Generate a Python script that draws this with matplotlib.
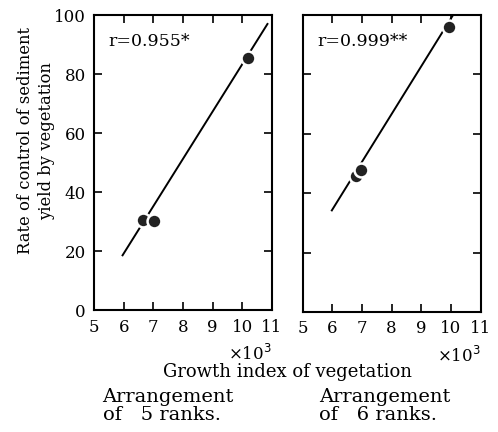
import matplotlib
matplotlib.use("Agg")
import matplotlib.pyplot as plt

# Data (growth index in 10^3 units, control rate %)
x5 = [6.65, 7.03, 10.21]
y5 = [30.5, 30.3, 85.6]
fit5_x = [5.96, 10.85]
fit5_y = [18.6, 97.0]
r5_label = "r=0.955*"

x6 = [6.79, 6.96, 9.95]
y6 = [45.7, 47.9, 96.1]
fit6_x = [5.98, 10.07]
fit6_y = [34.2, 100.0]
r6_label = "r=0.999**"

xticks = [5, 6, 7, 8, 9, 10, 11]
yticks = [0, 20, 40, 60, 80, 100]

plt.rcParams['font.family'] = ['DejaVu Serif']
fig = plt.figure(figsize=(4.98, 4.32), dpi=100)
axL = fig.add_axes([0.189, 0.282, 0.357, 0.683])
axR = fig.add_axes([0.608, 0.278, 0.357, 0.687])

for ax, xs, ys, fx, fy, lab in [(axL, x5, y5, fit5_x, fit5_y, r5_label),
                                (axR, x6, y6, fit6_x, fit6_y, r6_label)]:
    ax.plot(fx, fy, color='black', lw=1.4, zorder=2)
    ax.plot(xs, ys, 'o', color='#222222', ms=10, mec='white', mew=1.8, zorder=3)
    ax.set_xlim(5, 11)
    ax.set_ylim(0, 100)
    ax.set_xticks(xticks)
    ax.set_yticks(yticks)
    ax.tick_params(direction='in', top=True, right=True, length=6, width=1.2,
                   labelsize=12, pad=6)
    for s in ax.spines.values():
        s.set_linewidth(1.5)
    ax.text(0.08, 0.91, lab, transform=ax.transAxes, fontsize=12.5, va='center', ha='left')
    ax.text(1.0, -0.15, "×10$^3$", transform=ax.transAxes, fontsize=12,
            ha='right', va='center')

axR.tick_params(labelleft=False)
fig.text(0.072, 1 - 141 / 432, "Rate of control of sediment\nyield by vegetation",
         fontsize=11.8, rotation=90, ha='center', va='center', linespacing=1.35)

fig.text(0.578, 0.139, "Growth index of vegetation", fontsize=13, ha='center', va='center')
fig.text(0.206, 0.060, "Arrangement\nof   5 ranks.", fontsize=14, ha='left', va='center',
         linespacing=0.95)
fig.text(0.64, 0.060, "Arrangement\nof   6 ranks.", fontsize=14, ha='left', va='center',
         linespacing=0.95)

fig.savefig("out.png", dpi=100)
